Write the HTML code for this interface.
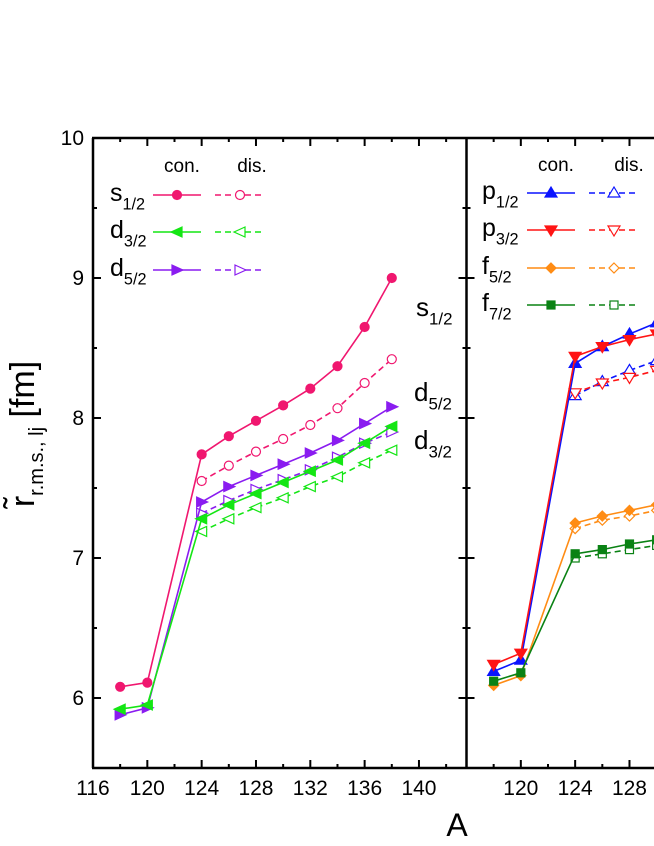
<!DOCTYPE html>
<html><head><meta charset="utf-8">
<style>
html,body{margin:0;padding:0;background:#fff;}
svg{display:block;font-family:"Liberation Sans",Arial,sans-serif;}
</style></head>
<body>
<svg id="chart" width="654" height="846" viewBox="0 0 654 846" xmlns="http://www.w3.org/2000/svg">
<text transform="translate(34,434) rotate(-90)" text-anchor="middle" font-size="34">r̃<tspan font-size="20" dy="9">r.m.s., lj</tspan><tspan dy="-9"> [fm]</tspan></text>
<text x="457" y="836" text-anchor="middle" font-size="32">A</text>
</svg>
<script>
const xs = [118,120,124,126,128,130,132,134,136,138];
const xsDis = [124,126,128,130,132,134,136,138];
// left panel
const s12Con = [6.08,6.11,7.74,7.87,7.98,8.09,8.21,8.37,8.65,9.00];
const s12Dis = [7.55,7.66,7.76,7.85,7.95,8.07,8.25,8.42];
const d52Con = [5.88,5.93,7.40,7.51,7.59,7.67,7.75,7.84,7.96,8.08];
const d52Dis = [7.32,7.41,7.49,7.56,7.63,7.72,7.82,7.90];
const d32Con = [5.92,5.95,7.28,7.38,7.46,7.54,7.62,7.70,7.82,7.94];
const d32Dis = [7.19,7.28,7.36,7.43,7.51,7.58,7.68,7.77];
// right panel
const p12Con = [6.19,6.27,8.39,8.51,8.60,8.68,8.76,8.85,8.97,9.10];
const p12Dis = [8.16,8.26,8.34,8.41,8.48,8.56,8.66,8.76];
const p32Con = [6.24,6.32,8.44,8.51,8.56,8.60,8.65,8.71,8.79,8.88];
const p32Dis = [8.18,8.25,8.29,8.34,8.39,8.45,8.52,8.60];
const f52Con = [6.09,6.16,7.25,7.30,7.34,7.38,7.42,7.47,7.53,7.60];
const f52Dis = [7.21,7.27,7.30,7.34,7.38,7.42,7.47,7.53];
const f72Con = [6.12,6.18,7.03,7.06,7.10,7.13,7.17,7.21,7.26,7.31];
const f72Dis = [7.00,7.03,7.06,7.09,7.12,7.16,7.20,7.25];
const xTicks = [116,120,124,128,132,136,140];
const yTicks = [6,7,8,9,10];

const NS="http://www.w3.org/2000/svg";
const svg=document.getElementById('chart');
const TOP=138, BOT=768, YMIN=5.5, YMAX=10, XMIN=116, XMAX=143.5, PW=373.5;
const panels=[93,466.5];
function yS(v){return BOT-(v-YMIN)/(YMAX-YMIN)*(BOT-TOP);}
function xS(p,a){return panels[p]+(a-XMIN)/(XMAX-XMIN)*PW;}
function el(tag,attrs,parent){const e=document.createElementNS(NS,tag);for(const k in attrs)e.setAttribute(k,attrs[k]);(parent||svg).appendChild(e);return e;}

const clip=el('clipPath',{id:'clipR'});
el('rect',{x:466,y:TOP,width:200,height:BOT-TOP},clip);

function marker(g,shape,x,y,color,filled){
  const f=filled?color:'#fff';const r=5;let m;
  if(shape==='circle') m=el('circle',{cx:x,cy:y,r:4.5,fill:f,stroke:color,'stroke-width':1.2},g);
  else if(shape==='up') m=el('polygon',{points:`${x},${y-r-1} ${x-r-1},${y+r-1} ${x+r+1},${y+r-1}`,fill:f,stroke:color,'stroke-width':1.2},g);
  else if(shape==='down') m=el('polygon',{points:`${x},${y+r+1} ${x-r-1},${y-r+1} ${x+r+1},${y-r+1}`,fill:f,stroke:color,'stroke-width':1.2},g);
  else if(shape==='left') m=el('polygon',{points:`${x-r-1},${y} ${x+r},${y-r} ${x+r},${y+r}`,fill:f,stroke:color,'stroke-width':1.2},g);
  else if(shape==='right') m=el('polygon',{points:`${x+r+1},${y} ${x-r},${y-r} ${x-r},${y+r}`,fill:f,stroke:color,'stroke-width':1.2},g);
  else if(shape==='diamond') m=el('polygon',{points:`${x},${y-r} ${x+r},${y} ${x},${y+r} ${x-r},${y}`,fill:f,stroke:color,'stroke-width':1.2},g);
  else m=el('rect',{x:x-4,y:y-4,width:8,height:8,fill:f,stroke:color,'stroke-width':1.2},g);
  
  
}
function series(p,name,xv,yv,color,shape,filled){
  const g=el('g',p===1?{'clip-path':'url(#clipR)'}:{});
  
  
  const pts=xv.map((a,i)=>xS(p,a)+','+yS(yv[i])).join(' ');
  el('polyline',{points:pts,fill:'none',stroke:color,'stroke-width':1.6,'stroke-dasharray':filled?'none':'6,4'},g);
  xv.forEach((a,i)=>marker(g,shape,xS(p,a),yS(yv[i]),color,filled));
}
const PINK='#f0176f',GREEN='#14e614',PURP='#8a1cf0',BLUE='#0a14ff',RED='#ff1414',ORANGE='#ff8c14',DG='#0a8214';
series(0,'s12-dis',xsDis,s12Dis,PINK,'circle',false);
series(0,'d52-dis',xsDis,d52Dis,PURP,'right',false);
series(0,'d32-dis',xsDis,d32Dis,GREEN,'left',false);
series(0,'s12-con',xs,s12Con,PINK,'circle',true);
series(0,'d52-con',xs,d52Con,PURP,'right',true);
series(0,'d32-con',xs,d32Con,GREEN,'left',true);
series(1,'p12-dis',xsDis,p12Dis,BLUE,'up',false);
series(1,'p32-dis',xsDis,p32Dis,RED,'down',false);
series(1,'f52-dis',xsDis,f52Dis,ORANGE,'diamond',false);
series(1,'f72-dis',xsDis,f72Dis,DG,'square',false);
series(1,'p12-con',xs,p12Con,BLUE,'up',true);
series(1,'p32-con',xs,p32Con,RED,'down',true);
series(1,'f52-con',xs,f52Con,ORANGE,'diamond',true);
series(1,'f72-con',xs,f72Con,DG,'square',true);

// axes frame
const ax=el('g',{stroke:'#000','stroke-width':2.5,fill:'none'});


el('line',{x1:93,y1:TOP,x2:93,y2:BOT},ax);
el('line',{x1:466.5,y1:TOP,x2:466.5,y2:BOT},ax);
el('line',{x1:92,y1:TOP,x2:660,y2:TOP},ax);
el('line',{x1:92,y1:BOT,x2:660,y2:BOT},ax);
const tk=el('g',{stroke:'#000','stroke-width':2});
for(let v=YMIN;v<=YMAX;v+=0.5){
  const L=(Math.abs(v-Math.round(v))<1e-6)?8:4;const y=yS(v);
  el('line',{x1:93,y1:y,x2:93+L,y2:y},tk);
  el('line',{x1:466.5-L,y1:y,x2:466.5+L,y2:y},tk);
}
for(let p=0;p<2;p++){
  for(let a=116;a<=143;a+=2){
    const L=(a%4===0)?8:4;const x=xS(p,a);
    if(p===1&&a===116)continue;
    el('line',{x1:x,y1:BOT,x2:x,y2:BOT-L},tk);
    el('line',{x1:x,y1:TOP,x2:x,y2:TOP+L},tk);
  }
}
yTicks.forEach(v=>{const t=el('text',{x:84,y:yS(v)+7,'text-anchor':'end','font-size':21});t.textContent=v;
  });
for(let p=0;p<2;p++) xTicks.forEach(a=>{
  if(p===1&&a===116)return;
  const x=xS(p,a); if(x>654)return;
  const t=el('text',{x:x,y:BOT+27,'text-anchor':'middle','font-size':21});t.textContent=a;
  });

// legends
function lab(x,y,main,sub,fs,name){
  const t=el('text',{x:x,y:y,'font-size':fs});
  
  t.appendChild(document.createTextNode(main));
  const s=el('tspan',{'font-size':fs*0.65,dy:fs*0.33},t);s.textContent=sub;
}
function legEntry(name,x0,y,conX,disX,color,shape,main,sub){
  const g=el('g',{});
  
  lab(x0,y+6,main,sub,25,name+'-label');
  el('line',{x1:conX-24,y1:y,x2:conX+24,y2:y,stroke:color,'stroke-width':1.6},g);
  el('line',{x1:disX-25,y1:y,x2:disX+23,y2:y,stroke:color,'stroke-width':1.6,'stroke-dasharray':'6,4'},g);
  marker(g,shape,conX,y,color,true);marker(g,shape,disX,y,color,false);
}
let t=el('text',{x:182,y:172,'font-size':19,'text-anchor':'middle'});t.textContent='con.';

t=el('text',{x:252,y:172,'font-size':19,'text-anchor':'middle'});t.textContent='dis.';

legEntry('legend-s12',110,195,177,240,PINK,'circle','s','1/2');
legEntry('legend-d32',110,232,177,240,GREEN,'left','d','3/2');
legEntry('legend-d52',110,270,177,240,PURP,'right','d','5/2');
t=el('text',{x:556,y:171,'font-size':19,'text-anchor':'middle'});t.textContent='con.';

t=el('text',{x:629,y:171,'font-size':19,'text-anchor':'middle'});t.textContent='dis.';

legEntry('legend-p12',482,193,551,614,BLUE,'up','p','1/2');
legEntry('legend-p32',482,230,551,614,RED,'down','p','3/2');
legEntry('legend-f52',482,268,551,614,ORANGE,'diamond','f','5/2');
legEntry('legend-f72',482,305,551,614,DG,'square','f','7/2');
// annotations
lab(416,316,'s','1/2',26,'annotation-s12');
lab(414,401,'d','5/2',26,'annotation-d52');
lab(414,449,'d','3/2',26,'annotation-d32');
</script>
</body></html>
